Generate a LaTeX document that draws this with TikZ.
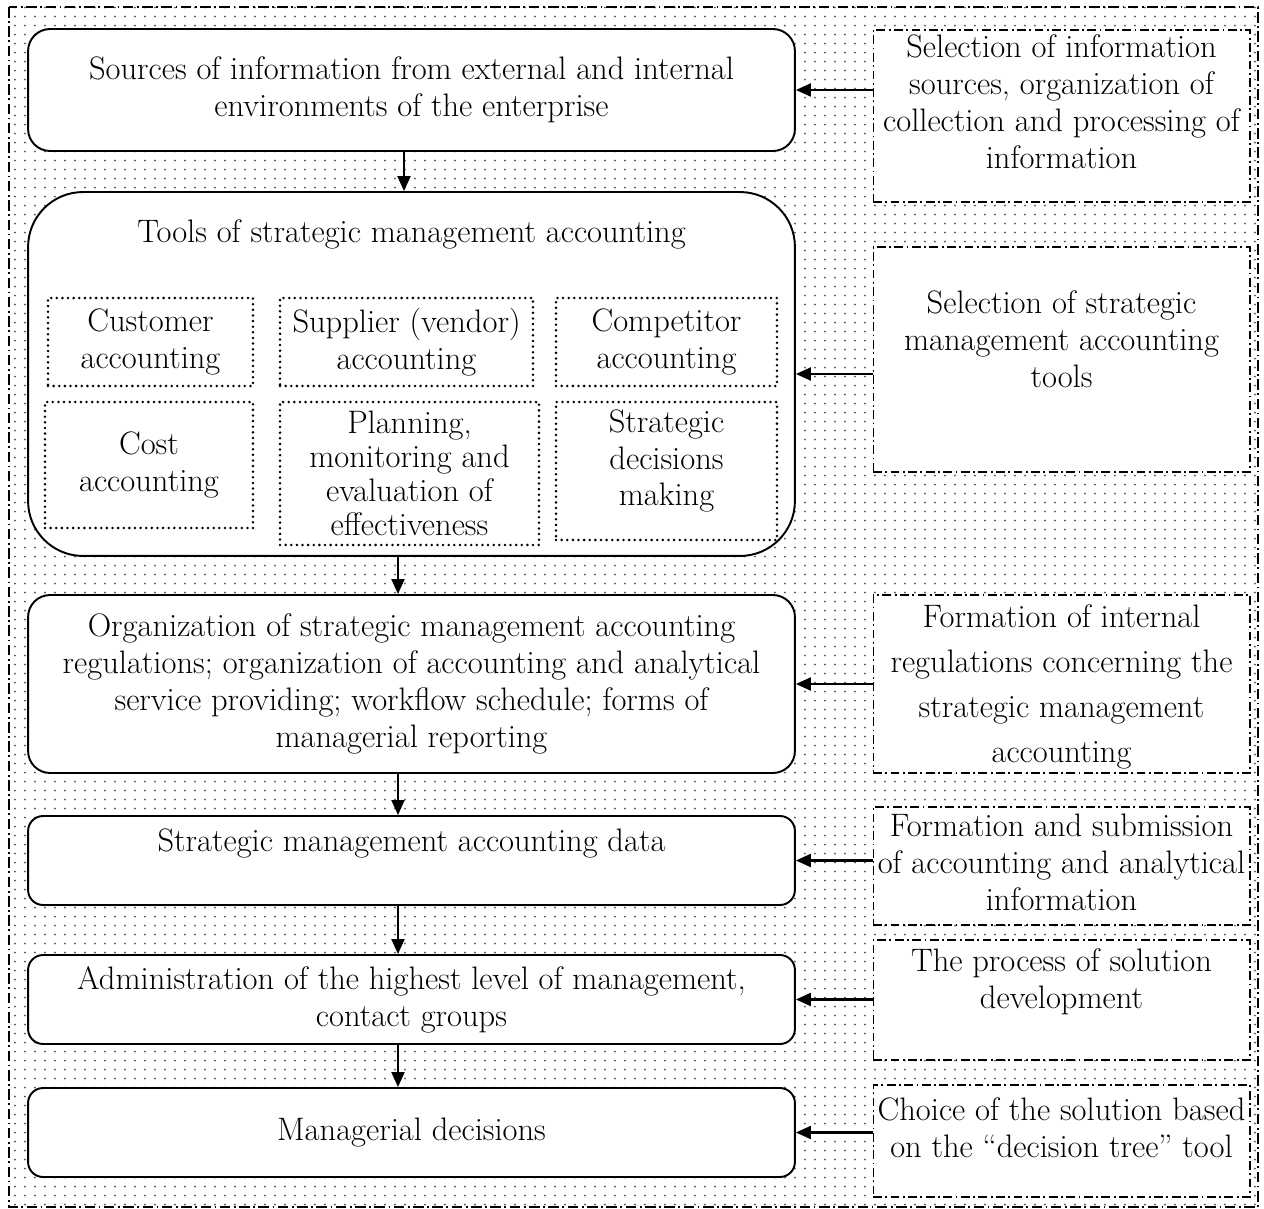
\documentclass[tikz,border=0pt]{standalone}
\usetikzlibrary{positioning,arrows.meta,patterns}
\newcommand{\diagfont}{\fontsize{18.5}{21}\selectfont}
\pgfdeclarepatternformonly{bgdots}{\pgfpointorigin}{\pgfqpoint{5.69pt}{5.12pt}}{\pgfqpoint{5.69pt}{5.12pt}}{%
  \pgfpathcircle{\pgfqpoint{2.8pt}{2.5pt}}{0.6pt}\pgfusepath{fill}}
\begin{document}
\begin{tikzpicture}[x=0.02cm, y=-0.02cm,
        stage/.style={draw, line width=1.1pt, fill=white, minimum width=15.34cm, align=center, font=\diagfont},
        tool/.style={draw, line width=1.6pt, dash pattern=on 0pt off 3.2pt, line cap=round, fill=white},
        task/.style={draw, line width=0.6pt, dash pattern=on 5pt off 2pt on 1pt off 2pt, fill=white, minimum width=7.54cm},
        txt/.style={align=center, font=\diagfont},
        flow/.style={-{Triangle[length=0.3cm, width=0.26cm]}, line width=1.2pt}
    ]
    \useasboundingbox (0,0) rectangle (1264,1209);
    % dotted background and frame
    \fill[pattern=bgdots, pattern color=black!65] (9,7) rectangle (1258,1207);
    \draw[line width=0.6pt, dash pattern=on 6pt off 2pt on 1pt off 2pt] (9,7) rectangle (1258,1207);

    % main chain
    \node[stage, rounded corners=0.44cm, minimum height=2.44cm] (s1) at (411.5,90)
        {Sources of information from external and internal\\environments of the enterprise};
    \node[stage, rounded corners=1.1cm, minimum height=7.28cm] (s2) at (411.5,374) {};
    \node[txt] (s2t) at (411.5,234) {Tools of strategic management accounting};
    \node[stage, rounded corners=0.44cm, minimum height=3.56cm] (s3) at (411.5,684)
        {Organization of strategic management accounting\\regulations; organization of accounting and analytical\\service providing; workflow schedule; forms of\\managerial reporting};
    \node[stage, rounded corners=0.3cm, minimum height=1.78cm] (s4) at (411.5,860.5) {};
    \node[txt] (s4t) at (411.5,843) {Strategic management accounting data};
    \node[stage, rounded corners=0.3cm, minimum height=1.78cm] (s5) at (411.5,999.5)
        {Administration of the highest level of management,\\contact groups};
    \node[stage, rounded corners=0.3cm, minimum height=1.78cm] (s6) at (411.5,1132.5) {Managerial decisions};

    % tools
    \node[tool, minimum width=4.10cm, minimum height=1.76cm] (c1) at (150.5,342) {};
    \node[tool, minimum width=5.06cm, minimum height=1.76cm] (c2) at (406.5,342) {};
    \node[tool, minimum width=4.42cm, minimum height=1.76cm] (c3) at (666.5,342) {};
    \node[tool, minimum width=4.16cm, minimum height=2.52cm] (c4) at (149,465) {};
    \node[tool, minimum width=5.18cm, minimum height=2.86cm] (c5) at (409.5,473.5) {};
    \node[tool, minimum width=4.42cm, minimum height=2.76cm] (c6) at (666.5,471) {};
    \node[txt] (c1t) at (c1) {Customer\\accounting};
    \node[txt] (c2t) at (c2) {Supplier (vendor)\\accounting};
    \node[txt] (c3t) at (c3) {Competitor\\accounting};
    \node[txt] (c4t) at (c4) {Cost\\accounting};
    \node[txt, font=\fontsize{18.5}{19.3}\selectfont] (c5t) at (c5) {Planning,\\monitoring and\\evaluation of\\effectiveness};
    \node[txt] (c6t) at (666.5,461) {Strategic\\decisions\\making};

    % tasks
    \node[task, minimum height=3.44cm] (r1) at (1061.5,116) {};
    \node[task, minimum height=4.50cm] (r2) at (1061.5,359.5) {};
    \node[task, minimum height=3.56cm] (r3) at (1061.5,684) {};
    \node[task, minimum height=2.36cm] (r4) at (1061.5,866) {};
    \node[task, minimum height=2.40cm] (r5) at (1061.5,1000) {};
    \node[task, minimum height=2.24cm] (r6) at (1061.5,1141) {};
    \node[txt] (r1t) at (1061.5,102) {Selection of information\\sources, organization of\\collection and processing of\\information};
    \node[txt] (r2t) at (1061.5,339) {Selection of strategic\\management accounting\\tools};
    \node[txt, font=\fontsize{18.5}{25.5}\selectfont] (r3t) at (1061.5,687) {Formation of internal\\regulations concerning the\\strategic management\\accounting};
    \node[txt] (r4t) at (1061.5,862) {Formation and submission\\of accounting and analytical\\information};
    \node[txt] (r5t) at (1061.5,982) {The process of solution\\development};
    \node[txt] (r6t) at (1061.5,1128) {Choice of the solution based\\on the ``decision tree'' tool};

    \draw[flow] ([xshift=-0.15cm]s1.south) -- ([xshift=-0.15cm]s2.north);
    \draw[flow] ([xshift=-0.27cm]s2.south) -- ([xshift=-0.27cm]s3.north);
    \draw[flow] ([xshift=-0.27cm]s3.south) -- ([xshift=-0.27cm]s4.north);
    \draw[flow] ([xshift=-0.27cm]s4.south) -- ([xshift=-0.27cm]s5.north);
    \draw[flow] ([xshift=-0.27cm]s5.south) -- ([xshift=-0.27cm]s6.north);
    \draw[flow] (r1.west |- s1) -- (s1.east |- s1);
    \draw[flow] (r2.west |- s2) -- (s2.east |- s2);
    \draw[flow] (r3.west |- s3) -- (s3.east |- s3);
    \draw[flow] (r4.west |- s4) -- (s4.east |- s4);
    \draw[flow] (r5.west |- s5) -- (s5.east |- s5);
    \draw[flow] (r6.west |- s6) -- (s6.east |- s6);
\end{tikzpicture}
\end{document}
